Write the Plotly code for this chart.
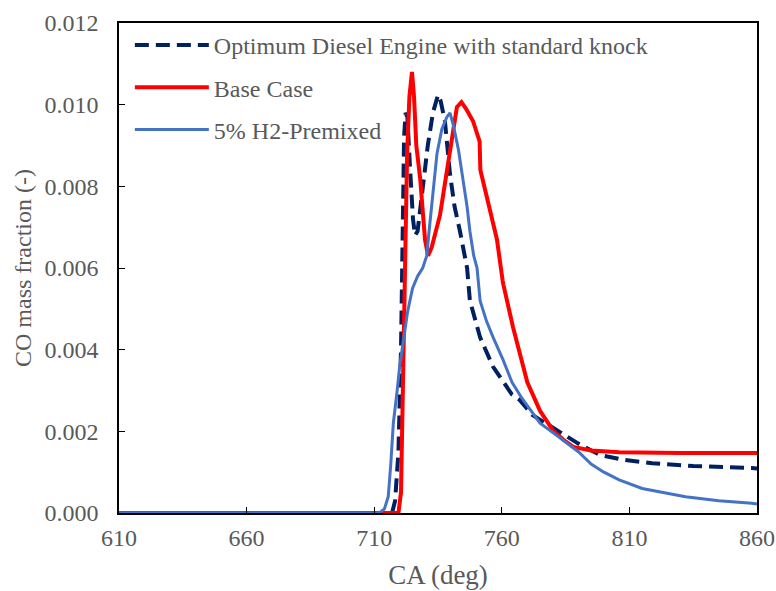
import plotly.graph_objects as go

# ---- data ----
dash_x = [610, 717, 718.2, 719.5, 720.5, 721.2, 721.7, 722.3, 723, 724, 725.2, 726, 727, 729.1, 731, 733, 735, 736,
          737.7, 739.7, 741.5, 743.6, 746.4, 747.5, 751.5, 756.6, 760.5, 764, 767, 772, 782.8, 790, 798.5, 808, 819,
          835, 858, 860]
dash_y = [0, 0, 0.0003, 0.0015, 0.004, 0.007, 0.0092, 0.0098, 0.0097, 0.0085, 0.0072, 0.0068, 0.0069, 0.0080, 0.0090,
          0.0098, 0.01024, 0.0101, 0.0096, 0.0083, 0.0075, 0.0069, 0.0060, 0.0052, 0.0043, 0.00358, 0.0032, 0.0029,
          0.00277, 0.0024, 0.00198, 0.0017, 0.00142, 0.0013, 0.00122, 0.00115, 0.0011, 0.00109]

base_x = [610, 719.5, 720.5, 721.3, 722, 722.9, 723.8, 724.8, 725.6, 726.5, 728, 729.9, 731.1, 732.5, 735.8, 739.7,
          742.4, 744.2, 746, 748.7, 751.3, 751.6, 754.2, 758.1, 760.3, 760.6, 764.4, 770, 775, 780, 784, 788, 795,
          806, 830, 860]
base_y = [0, 0, 0.0005, 0.003, 0.006, 0.0088, 0.0102, 0.0108, 0.0102, 0.0090, 0.0082, 0.0067, 0.0063, 0.0065, 0.0073,
          0.0088, 0.00994, 0.01006, 0.0099, 0.0096, 0.0091, 0.0084, 0.0077, 0.0067, 0.0057, 0.0056, 0.00455, 0.0032,
          0.0025, 0.00203, 0.0018, 0.00162, 0.00153, 0.00149, 0.00147, 0.00147]

h2_x = [610, 712, 714, 715.5, 716.5, 717.5, 719, 720, 721.4, 723, 725, 727, 729, 730.6, 731.5, 733, 734.6, 736.5,
        738.5, 739.7, 741, 743, 744.8, 746.4, 747.5, 749, 750.3, 751.5, 754, 756.6, 760.5, 764, 768, 775, 782.8, 790,
        795, 800, 806, 815, 832, 845, 858, 860]
h2_y = [0, 0, 0.0001, 0.0004, 0.0012, 0.0022, 0.0030, 0.0036, 0.0042, 0.0049, 0.0055, 0.0058, 0.0060, 0.0063, 0.0069,
        0.0079, 0.0088, 0.0094, 0.0097, 0.0098, 0.0095, 0.0089, 0.0082, 0.0075, 0.0069, 0.0063, 0.0060, 0.0052,
        0.0047, 0.0043, 0.00375, 0.0032, 0.0028, 0.0022, 0.00184, 0.0015, 0.0012, 0.0010, 0.00081, 0.0006, 0.0004,
        0.0003, 0.00024, 0.00022]

names = ["Optimum Diesel Engine with standard knock", "Base Case", "5% H2-Premixed"]

fig = go.Figure()
fig.add_trace(go.Scatter(x=dash_x, y=dash_y, mode="lines", name=names[0], legendgroup="a",
                         line=dict(color="#002060", width=4, dash="14px,7px")))
fig.add_trace(go.Scatter(x=base_x, y=base_y, mode="lines", name=names[1], legendgroup="b",
                         line=dict(color="#FF0000", width=4)))
fig.add_trace(go.Scatter(x=h2_x, y=h2_y, mode="lines", name=names[2], legendgroup="c",
                         line=dict(color="#4472C4", width=3)))

font_fam = "Liberation Serif, Times New Roman, serif"
grey = "#595959"
fig.update_layout(
    width=776, height=591,
    margin=dict(l=119, r=19, t=23, b=78, autoexpand=False),
    paper_bgcolor="white", plot_bgcolor="white",
    font=dict(family=font_fam, color=grey, size=24),
    showlegend=True,
    legend=dict(x=0.017, y=1.0, xanchor="left", yanchor="top", bgcolor="rgba(0,0,0,0)",
                font=dict(size=24, color=grey, family=font_fam), tracegroupgap=8,
                itemwidth=74),
)
fig.update_xaxes(range=[610, 860], tickmode="linear", tick0=610, dtick=50, showgrid=False, zeroline=False,
                 showline=True, linecolor="black", linewidth=1.5, mirror=True, automargin=False,
                 ticks="inside", ticklen=6, tickcolor="black", ticklabelstandoff=2,
                 tickfont=dict(size=24, color=grey),
                 title=dict(text="CA (deg)", font=dict(size=27, color=grey), standoff=16))
fig.update_yaxes(range=[0, 0.012], tickmode="linear", tick0=0, dtick=0.002, tickformat=".3f", showgrid=False,
                 zeroline=False, showline=True, linecolor="black", linewidth=1.5, mirror=True, automargin=False,
                 ticks="inside", ticklen=6, tickcolor="black", ticklabelstandoff=14,
                 tickfont=dict(size=24, color=grey),
                 title=dict(text="CO mass fraction (-)", font=dict(size=24, color=grey), standoff=6))

fig.write_html("out.html", config={"displayModeBar": False},
               post_script="document.body.style.margin='0';")
